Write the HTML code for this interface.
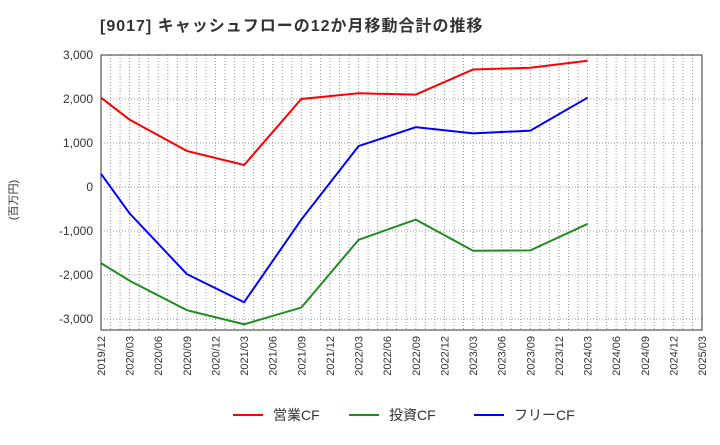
<!DOCTYPE html>
<html><head><meta charset="utf-8"><style>
body{margin:0;background:#fff;font-family:"Liberation Sans","Noto Sans CJK JP",sans-serif;}
</style></head><body>
<svg id="c" width="720" height="440" xmlns="http://www.w3.org/2000/svg">
<text x="100" y="31" font-size="16" letter-spacing="1" font-weight="bold" fill="#333" font-family="Liberation Sans, Noto Sans CJK JP, sans-serif">[9017]  キャッシュフローの12か月移動合計の推移</text>
<text transform="translate(17,200) rotate(-90)" font-size="11" fill="#333" text-anchor="middle" font-family="Liberation Sans, Noto Sans CJK JP, sans-serif">(百万円)</text>
<g id="grid"></g><g id="axes"></g><g id="series"></g><g id="legend"></g>
</svg>
<script>
const xLabels=["2019/12","2020/03","2020/06","2020/09","2020/12","2021/03","2021/06","2021/09","2021/12","2022/03","2022/06","2022/09","2022/12","2023/03","2023/06","2023/09","2023/12","2024/03","2024/06","2024/09","2024/12","2025/03"];
const yTicks=[3000,2000,1000,0,-1000,-2000,-3000];
const dataIdx=[0,1,3,5,7,9,11,13,15,17];
const opCF=[2030,1530,820,500,2000,2130,2100,2670,2710,2870];
const invCF=[-1730,-2130,-2800,-3120,-2740,-1200,-740,-1450,-1440,-840];
const freeCF=[300,-600,-1980,-2620,-740,930,1360,1220,1280,2030];
const names=["営業CF","投資CF","フリーCF"];
const colors=["#ff0000","#228b22","#0000ff"];
const L=101,R=702,T=55,B=330;
const x=i=>L+(R-L)*i/21;
const y=v=>T+(3000-v)*(B-T)/6250;
const NS="http://www.w3.org/2000/svg";
function mk(tag,attrs,parent,text){const e=document.createElementNS(NS,tag);for(const k in attrs)e.setAttribute(k,attrs[k]);if(text!==undefined)e.textContent=text;document.getElementById(parent).appendChild(e);return e;}
for(let m=1;m<63;m++){const xx=L+(R-L)*m/63;const e=mk('line',{x1:xx,x2:xx,y1:T,y2:B,stroke:'#999','stroke-dasharray':'1,2','stroke-width':1},'grid');

}
yTicks.forEach(v=>{const e=mk('line',{x1:L,x2:R,y1:y(v),y2:y(v),stroke:'#999','stroke-dasharray':'1,2'},'grid');


const t=mk('text',{x:L-8,y:y(v)+4,'font-size':12,'text-anchor':'end',fill:'#333'},'axes',v.toLocaleString('en-US'));

});
const fr=mk('rect',{x:L,y:T,width:R-L,height:B-T,fill:'none',stroke:'#333'},'axes');


xLabels.forEach((s,i)=>{const t=mk('text',{transform:`translate(${x(i)+4},${B+6}) rotate(-90)`,'font-size':11,'text-anchor':'end',fill:'#333'},'axes',s);

});
[opCF,invCF,freeCF].forEach((arr,s)=>{const p=mk('polyline',{points:arr.map((v,i)=>x(dataIdx[i])+','+y(v)).join(' '),fill:'none',stroke:colors[s],'stroke-width':2},'series');

});
const lx=[233,349,474];
names.forEach((n,s)=>{const l=mk('line',{x1:lx[s],x2:lx[s]+30,y1:415,y2:415,stroke:colors[s],'stroke-width':2},'legend');


const t=mk('text',{x:lx[s]+40,y:420,'font-size':14,fill:'#333'},'legend',n);

});
</script>
</body></html>
